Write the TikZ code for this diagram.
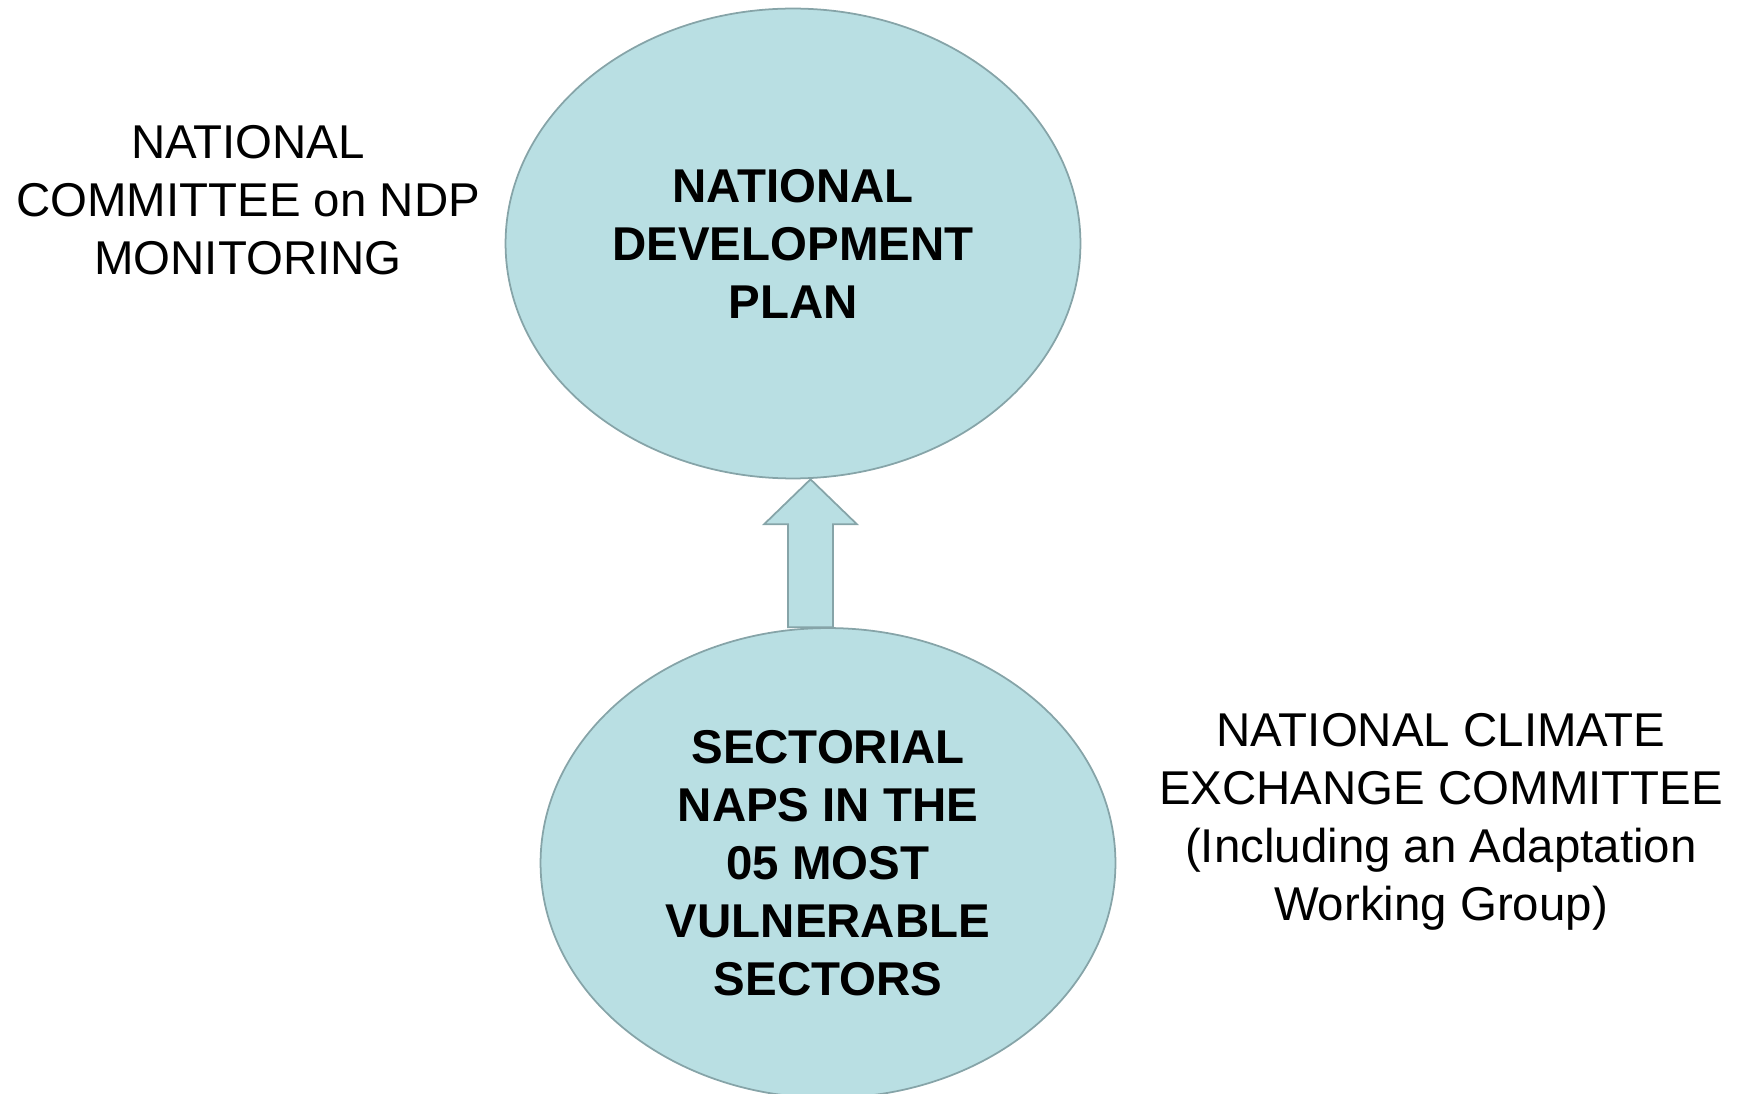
\documentclass[tikz,border=0pt]{standalone}
\usepackage{fontspec}
\setmainfont{Liberation Sans}
\usepackage{tikz}
\usetikzlibrary{shapes.geometric,calc}
\definecolor{ellfill}{HTML}{B9DFE3}
\definecolor{elldraw}{HTML}{86A4A8}

\begin{document}
\begin{tikzpicture}[x=0.02cm,y=-0.02cm,
			ellnode/.style={ellipse, draw=elldraw, fill=ellfill, line width=1pt, minimum width=11.5cm, minimum height=9.4cm, inner sep=0pt, align=center, font=\fontsize{27}{33}\selectfont\bfseries},
			sidetext/.style={align=center, font=\fontsize{27}{33}\selectfont},
			blockarrow/.style={draw=elldraw, fill=ellfill, line width=1pt, line join=miter}
		]
		\useasboundingbox (0,0) rectangle (1744,1094);

		\node[ellnode] (ndp) at (793,243.5) {NATIONAL\\DEVELOPMENT\\PLAN};
		\node[ellnode] (naps) at (828,863) {SECTORIAL\\NAPS IN THE\\05 MOST\\VULNERABLE\\SECTORS};

		\node[sidetext] (monit) at (248,200) {NATIONAL\\COMMITTEE on NDP\\MONITORING};
		\node[sidetext] (climex) at (1441,822) {NATIONAL CLIMATE\\EXCHANGE COMMITTEE\\(Including an Adaptation\\Working Group)};

		% block arrow from the sector NAPs up to the plan
		\draw[blockarrow] let \p1=(ndp.south), \p2=(naps.north), \n1={(\x1+\x2)/2} in
			(\n1-0.45cm,\y2) -- (\n1-0.45cm,\y1-0.9cm) -- (\n1-0.93cm,\y1-0.9cm) -- (\n1,\y1)
			-- (\n1+0.93cm,\y1-0.9cm) -- (\n1+0.45cm,\y1-0.9cm) -- (\n1+0.45cm,\y2) -- cycle;
	\end{tikzpicture}
\end{document}
